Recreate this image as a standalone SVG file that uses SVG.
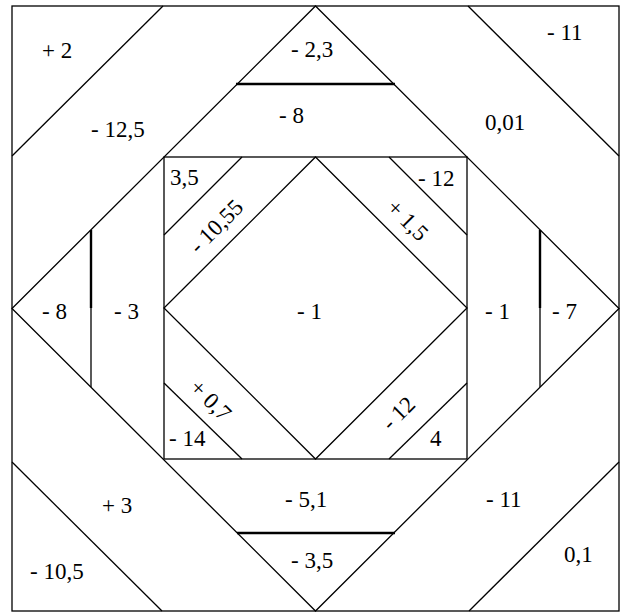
<svg xmlns="http://www.w3.org/2000/svg" width="623" height="612" viewBox="0 0 623 612">
<style>
.ln{stroke:#000;stroke-width:1.3;fill:none}
.bd{stroke:#000;stroke-width:2.4;fill:none}
text{font-family:"Liberation Serif","Times New Roman",serif;font-size:23px;fill:#000}
.r text{text-anchor:middle}
</style>
<rect width="623" height="612" fill="#fff"/>
<g id="connectors">
<rect class="ln" x="12" y="6" width="607" height="605"/>
<polygon class="ln" points="315.5,6 619,308.5 315.5,611 12,308.5"/>
<rect class="ln" x="164" y="157" width="303" height="302"/>
<polygon class="ln" points="315.5,157 467,308 315.5,459 164,308"/>
<line class="ln" x1="163" y1="6" x2="12" y2="156"/>
<line class="ln" x1="468" y1="6" x2="619" y2="156"/>
<line class="ln" x1="12" y1="462" x2="162" y2="611"/>
<line class="ln" x1="619" y1="462" x2="469" y2="611"/>
<line class="ln" x1="242" y1="157" x2="164" y2="235"/>
<line class="ln" x1="389" y1="157" x2="467" y2="235"/>
<line class="ln" x1="164" y1="383" x2="242" y2="459"/>
<line class="ln" x1="467" y1="383" x2="389" y2="459"/>
<line class="bd" x1="236" y1="84" x2="395" y2="84"/>
<line class="bd" x1="237" y1="533" x2="395" y2="533"/>
<line class="bd" x1="91" y1="230" x2="91" y2="308"/>
<line class="ln" x1="91" y1="308" x2="91" y2="387"/>
<line class="bd" x1="540" y1="230" x2="540" y2="308"/>
<line class="ln" x1="540" y1="308" x2="540" y2="387"/>
</g>
<g id="labels">
<g id="n1"><text x="42" y="58">+ 2</text></g>
<g id="n2"><text x="91" y="137">- 12,5</text></g>
<g id="n3"><text x="547" y="40">- 11</text></g>
<g id="n4"><text x="485" y="130">0,01</text></g>
<g id="n5"><text x="291" y="57">- 2,3</text></g>
<g id="n6"><text x="279" y="123">- 8</text></g>
<g id="n7"><text x="170" y="185">3,5</text></g>
<g id="n8"><text x="418" y="186">- 12</text></g>
<g id="n9"><text x="42" y="319">- 8</text></g>
<g id="n10"><text x="114" y="319">- 3</text></g>
<g id="n11"><text x="297" y="319">- 1</text></g>
<g id="n12"><text x="485" y="319">- 1</text></g>
<g id="n13"><text x="552" y="319">- 7</text></g>
<g id="n14"><text x="169" y="446">- 14</text></g>
<g id="n15"><text x="430" y="446">4</text></g>
<g id="n16"><text x="285" y="507">- 5,1</text></g>
<g id="n17"><text x="291" y="568">- 3,5</text></g>
<g id="n18"><text x="102" y="513">+ 3</text></g>
<g id="n19"><text x="30" y="579">- 10,5</text></g>
<g id="n20"><text x="486" y="507">- 11</text></g>
<g id="n21"><text x="564" y="562">0,1</text></g>
<g id="n22" class="r" transform="translate(216,226) rotate(-45)"><text x="0" y="8">- 10,55</text></g>
<g id="n23" class="r" transform="translate(408,220) rotate(45)"><text x="0" y="8">+ 1,5</text></g>
<g id="n24" class="r" transform="translate(211,400) rotate(45)"><text x="0" y="8">+ 0,7</text></g>
<g id="n25" class="r" transform="translate(398,413) rotate(-45)"><text x="0" y="8">- 12</text></g>
</g>
</svg>
